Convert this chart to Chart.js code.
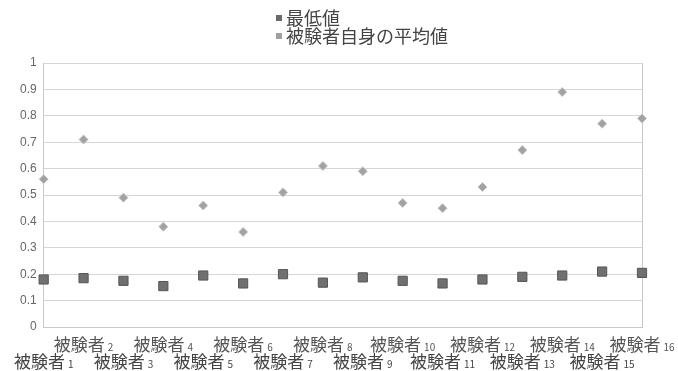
<!DOCTYPE html>
<html>
<head>
<meta charset="utf-8">
<script src="https://cdn.jsdelivr.net/npm/chart.js@4/dist/chart.umd.min.js"></script>
<style>
  html, body { margin: 0; padding: 0; background: #fff; }
  #wrap { width: 678px; height: 371px; position: relative; }
</style>
</head>
<body>
<div id="wrap"><canvas id="chart"></canvas></div>
<script>
// 被験者ごとの値
const subjects = ['被験者1', '被験者2', '被験者3', '被験者4', '被験者5', '被験者6', '被験者7', '被験者8',
  '被験者9', '被験者10', '被験者11', '被験者12', '被験者13', '被験者14', '被験者15', '被験者16'];
const minValues = [0.18, 0.185, 0.175, 0.155, 0.195, 0.165, 0.2, 0.168,
  0.188, 0.175, 0.165, 0.18, 0.19, 0.195, 0.21, 0.205];
const meanValues = [0.56, 0.71, 0.49, 0.38, 0.46, 0.36, 0.51, 0.61,
  0.59, 0.47, 0.45, 0.53, 0.67, 0.89, 0.77, 0.79];
const seriesNames = ['最低値', '被験者自身の平均値'];
const yTicks = [0, 0.1, 0.2, 0.3, 0.4, 0.5, 0.6, 0.7, 0.8, 0.9, 1];

const jpFont = '"Noto Sans CJK JP", "Noto Sans", sans-serif';

// 凡例（縦に2行）
const legendPlugin = {
  id: 'stackedLegend',
  afterDraw(chart) {
    const ctx = chart.ctx;
    const items = [
      { text: seriesNames[0], color: '#6a6a6a', y: 18 },
      { text: seriesNames[1], color: '#a0a0a0', y: 36 }
    ];
    ctx.save();
    ctx.font = '18px ' + jpFont;
    ctx.textBaseline = 'middle';
    items.forEach(function (it) {
      ctx.fillStyle = it.color;
      ctx.fillRect(276, it.y - 3, 6, 6);
      ctx.fillStyle = '#444';
      ctx.fillText(it.text, 286, it.y);
    });
    ctx.restore();
  }
};

// X軸ラベル（2段交互、番号は小さく）
const xLabelPlugin = {
  id: 'staggerLabels',
  afterDraw(chart) {
    const ctx = chart.ctx;
    const xs = chart.scales.x;
    ctx.save();
    ctx.textBaseline = 'alphabetic';
    subjects.forEach(function (lab, i) {
      const x = xs.getPixelForValue(i);
      const base = lab.replace(/[0-9]+$/, '');
      const num = lab.slice(base.length);
      const y = (i % 2 === 1) ? 351 : 368;
      ctx.font = '17px ' + jpFont;
      const w1 = ctx.measureText(base).width;
      ctx.font = '10px ' + jpFont;
      const w2 = ctx.measureText(num).width;
      const start = x - (w1 + 3 + w2) / 2;
      ctx.fillStyle = (i % 2 === 1) ? '#555' : '#444';
      ctx.font = '17px ' + jpFont;
      ctx.fillText(base, start, y);
      ctx.font = '10px ' + jpFont;
      ctx.fillText(num, start + w1 + 3, y);
    });
    ctx.restore();
  }
};

const ctx = document.getElementById('chart').getContext('2d');
new Chart(ctx, {
  type: 'line',
  data: {
    labels: subjects,
    datasets: [
      {
        label: seriesNames[0],
        data: minValues,
        showLine: false,
        pointStyle: 'rect',
        pointRadius: 6.5,
        pointBackgroundColor: '#707070',
        pointBorderColor: '#555',
        pointBorderWidth: 1
      },
      {
        label: seriesNames[1],
        data: meanValues,
        showLine: false,
        pointStyle: 'rectRot',
        pointRadius: 4.5,
        pointBackgroundColor: '#a2a2a2',
        pointBorderColor: '#c4c4c4',
        pointBorderWidth: 1
      }
    ]
  },
  plugins: [legendPlugin, xLabelPlugin],
  options: {
    responsive: true,
    maintainAspectRatio: false,
    animation: false,
    layout: {
      padding: { left: 13, right: 36, top: 63, bottom: 44 }
    },
    plugins: {
      legend: { display: false },
      tooltip: { enabled: false }
    },
    scales: {
      x: {
        type: 'category',
        offset: false,
        ticks: { display: false },
        grid: {
          drawTicks: false,
          color: function (c) {
            return (c.index === subjects.length - 1) ? '#c8c8c8' : 'rgba(0,0,0,0)';
          }
        },
        border: { color: '#c8c8c8' }
      },
      y: {
        min: 0,
        max: 1,
        afterBuildTicks: function (axis) {
          axis.ticks = yTicks.map(function (v) { return { value: v }; });
        },
        ticks: {
          padding: 7,
          color: '#666',
          font: { size: 12, family: '"Liberation Sans", sans-serif' },
          callback: function (v) { return String(Math.round(v * 10) / 10); }
        },
        grid: { drawTicks: false, color: '#d6d6d6' },
        border: { color: '#c8c8c8' }
      }
    }
  }
});
</script>
</body>
</html>
